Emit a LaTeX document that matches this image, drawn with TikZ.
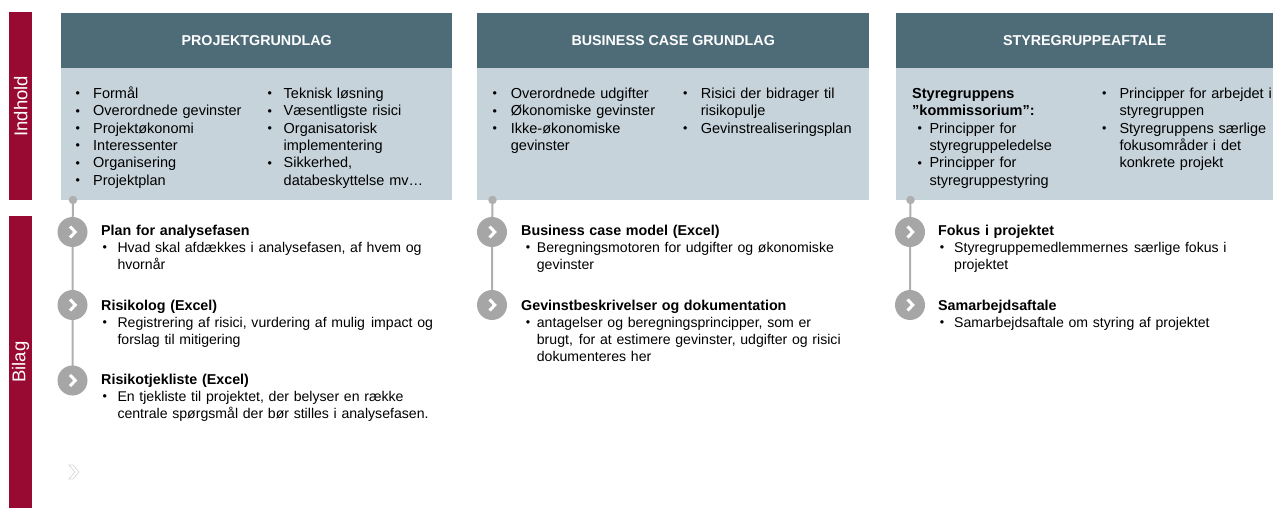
\documentclass[tikz,border=0pt]{standalone}
\usepackage{fontspec}
\setmainfont{Liberation Sans}
\usetikzlibrary{backgrounds}
\definecolor{redbar}{HTML}{990A32}
\definecolor{headc}{HTML}{4E6B78}
\definecolor{bodyc}{HTML}{C6D3DA}
\definecolor{greyc}{HTML}{A6A6A6}
\definecolor{linec}{HTML}{AFAFAF}
\definecolor{faintc}{HTML}{D6D6D6}
\newcommand{\bu}[1][15]{\makebox[#1pt][l]{\raisebox{0.8pt}{\fontsize{12.5}{12.5}\selectfont •}}}
\newcommand{\ind}[1]{\hspace*{#1pt}}
\tikzset{
  redbox/.style={fill=redbar, inner sep=0pt, anchor=north west},
  sidelabel/.style={rotate=90, text=white, font=\fontsize{18.5}{20}\selectfont, inner sep=0pt},
  headbox/.style={fill=headc, inner sep=0pt, anchor=north west, minimum height=55pt,
                  text=white, font=\fontsize{14.3}{16}\selectfont\bfseries},
  bodybox/.style={fill=bodyc, inner sep=0pt, anchor=north west, minimum height=132pt},
  txt/.style={anchor=base west, inner sep=0pt, text width=380pt, align=left,
              font=\fontsize{14.5}{17.3}\selectfont},
  btxt/.style={txt, font=\fontsize{14.1}{17.3}\selectfont},
  dotc/.style={circle, fill=linec, inner sep=0pt, minimum size=8.5pt},
  chev/.style={circle, fill=greyc, inner sep=0pt, minimum size=30pt},
  conn/.style={draw=linec, line width=2pt},
  chevline/.style={draw=white, line width=3pt, line join=miter},
}
\newcommand{\hd}[1]{{\fontsize{14.3}{17.3}\selectfont\bfseries #1}}
\newcommand{\chevron}[1]{\draw[chevline] ([shift={(-2.5,-5.5)}]#1.center) -- ([shift={(2.8,0)}]#1.center) -- ([shift={(-2.5,5.5)}]#1.center);}
\begin{document}
\begin{tikzpicture}[x=1pt,y=-1pt]
\useasboundingbox (0,0) rectangle (1275,508);

% side bars
\node[redbox, minimum width=23pt, minimum height=188pt] (indbar) at (9,12) {};
\node[sidelabel] (indlbl) at (indbar.center) {Indhold};
\node[redbox, minimum width=23pt, minimum height=292pt] (bilbar) at (9,216) {};
\node[sidelabel] (billbl) at (bilbar.center) {Bilag};

% panels
\node[headbox, minimum width=391pt] (h1) at (61,13) {PROJEKTGRUNDLAG};
\node[bodybox, minimum width=391pt] (b1) at (61,68) {};
\node[headbox, minimum width=392pt] (h2) at (477,13) {BUSINESS CASE GRUNDLAG};
\node[bodybox, minimum width=392pt] (b2) at (477,68) {};
\node[headbox, minimum width=377pt] (h3) at (896,13) {STYREGRUPPEAFTALE};
\node[bodybox, minimum width=377pt] (b3) at (896,68) {};

% panel 1 body
\node[txt] (p1a) at (75.5,98.7) {\bu[17.5]Formål\\\bu[17.5]Overordnede gevinster\\\bu[17.5]Projektøkonomi\\\bu[17.5]Interessenter\\\bu[17.5]Organisering\\\bu[17.5]Projektplan};
\node[txt] (p1b) at (267.5,98.7) {\bu[16]Teknisk løsning\\\bu[16]Væsentligste risici\\\bu[16]Organisatorisk\\\ind{16}implementering\\\bu[16]Sikkerhed,\\\ind{16}databeskyttelse mv…};

% panel 2 body
\node[txt] (p2a) at (492.3,98.7) {\bu[18.4]Overordnede udgifter\\\bu[18.4]Økonomiske gevinster\\\bu[18.4]Ikke-økonomiske\\\ind{18.4}gevinster};
\node[txt] (p2b) at (683,98.7) {\bu[17.7]Risici der bidrager til\\\ind{17.7}risikopulje\\\bu[17.7]Gevinstrealiseringsplan};

% panel 3 body
\node[txt] (p3a) at (912,98.7) {\textbf{Styregruppens}\\\textbf{”kommissorium”:}\\\ind{5.3}\bu[12]Principper for\\\ind{17.3}styregruppeledelse\\\ind{5.3}\bu[12]Principper for\\\ind{17.3}styregruppestyring};
\node[txt] (p3b) at (1102,98.7) {\bu[17.3]Principper for arbejdet i\\\ind{17.3}styregruppen\\\bu[17.3]Styregruppens særlige\\\ind{17.3}fokusområder i det\\\ind{17.3}konkrete projekt};

% timelines
\node[dotc] (d1) at (73,200) {};
\node[chev] (c11) at (72.5,232) {};
\node[chev] (c12) at (72.5,305) {};
\node[chev] (c13) at (72.5,380.5) {};
\node[dotc] (d2) at (492.5,200) {};
\node[chev] (c21) at (492,232) {};
\node[chev] (c22) at (492,305) {};
\node[dotc] (d3) at (910.5,200) {};
\node[chev] (c31) at (910,232) {};
\node[chev] (c32) at (910,305) {};
\begin{scope}[on background layer]
\draw[conn] (d1.center) -- (c11.center) -- (c12.center) -- (c13.center);
\draw[conn] (d2.center) -- (c21.center) -- (c22.center);
\draw[conn] (d3.center) -- (c31.center) -- (c32.center);
\end{scope}
\chevron{c11}\chevron{c12}\chevron{c13}\chevron{c21}\chevron{c22}\chevron{c31}\chevron{c32}

% faint chevron
\coordinate (fc) at (73,472);
\draw[faintc, line width=0.7pt] ([shift={(-4,-7)}]fc) -- ([shift={(0,-7)}]fc) -- ([shift={(6,0)}]fc) -- ([shift={(0,7)}]fc) -- ([shift={(-4,7)}]fc) -- ([shift={(2,0)}]fc) -- cycle;

% bilag items panel 1
\node[btxt] (i11) at (101,235) {\hd{Plan for analysefasen}\\\ind{1.3}\bu[15]Hvad skal afdækkes i analysefasen, af hvem og\\\ind{16.3}hvornår};
\node[btxt] (i12) at (101,310) {\hd{Risikolog (Excel)}\\\ind{1.3}\bu[15]Registrering af risici, vurdering af mulig\hspace{6pt}impact og\\\ind{16.3}forslag til mitigering};
\node[btxt] (i13) at (101,384.3) {\hd{Risikotjekliste (Excel)}\\\ind{1.3}\bu[15]En tjekliste til projektet, der belyser en række\\\ind{16.3}centrale spørgsmål der bør stilles i analysefasen.};

% bilag items panel 2
\node[btxt] (i21) at (521,235) {\hd{Business case model (Excel)}\\\ind{4.7}\bu[11]Beregningsmotoren for udgifter og økonomiske\\\ind{15.7}gevinster};
\node[btxt] (i22) at (521,310) {\hd{Gevinstbeskrivelser og dokumentation}\\\ind{4.7}\bu[11]antagelser og beregningsprincipper, som er\\\ind{15.7}brugt,\hspace{6pt}for at estimere gevinster, udgifter og risici\\\ind{15.7}dokumenteres her};

% bilag items panel 3
\node[btxt] (i31) at (938,235) {\hd{Fokus i projektet}\\\ind{1.7}\bu[14.3]Styregruppemedlemmernes\hspace{6pt}særlige fokus i\\\ind{16}projektet};
\node[btxt] (i32) at (938,310) {\hd{Samarbejdsaftale}\\\ind{1.7}\bu[14.3]Samarbejdsaftale om styring af projektet};
\end{tikzpicture}
\end{document}
